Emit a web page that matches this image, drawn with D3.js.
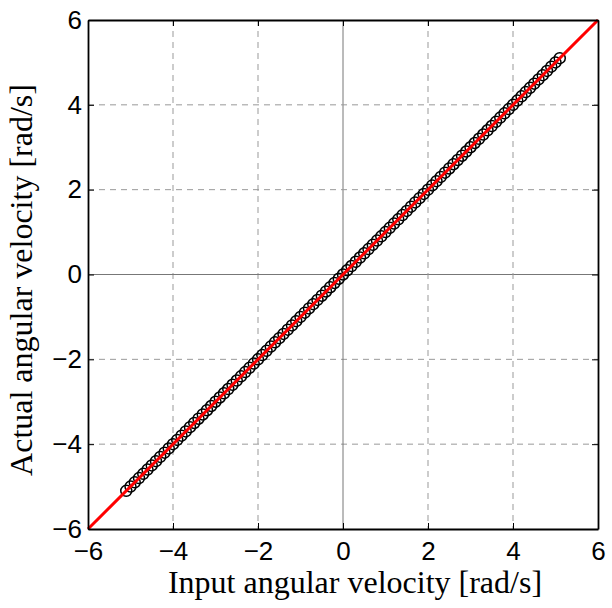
<!DOCTYPE html>
<html><head><meta charset="utf-8">
<script src="https://cdn.jsdelivr.net/npm/d3@7"></script>
<style>body{margin:0;background:#fff}</style>
</head><body>
<svg id="c" width="612" height="608"></svg>
<script>
const tickValues = [-6, -4, -2, 0, 2, 4, 6];
const inputVel = [-5.1,-5.0,-4.9,-4.8,-4.7,-4.6,-4.5,-4.4,-4.3,-4.2,-4.1,-4.0,-3.9,-3.8,-3.7,-3.6,-3.5,-3.4,-3.3,-3.2,-3.1,-3.0,-2.9,-2.8,-2.7,-2.6,-2.5,-2.4,-2.3,-2.2,-2.1,-2.0,-1.9,-1.8,-1.7,-1.6,-1.5,-1.4,-1.3,-1.2,-1.1,-1.0,-0.9,-0.8,-0.7,-0.6,-0.5,-0.4,-0.3,-0.2,-0.1,0.0,0.1,0.2,0.3,0.4,0.5,0.6,0.7,0.8,0.9,1.0,1.1,1.2,1.3,1.4,1.5,1.6,1.7,1.8,1.9,2.0,2.1,2.2,2.3,2.4,2.5,2.6,2.7,2.8,2.9,3.0,3.1,3.2,3.3,3.4,3.5,3.6,3.7,3.8,3.9,4.0,4.1,4.2,4.3,4.4,4.5,4.6,4.7,4.8,4.9,5.0,5.1];
const actualVel = [-5.1,-5.0,-4.9,-4.8,-4.7,-4.6,-4.5,-4.4,-4.3,-4.2,-4.1,-4.0,-3.9,-3.8,-3.7,-3.6,-3.5,-3.4,-3.3,-3.2,-3.1,-3.0,-2.9,-2.8,-2.7,-2.6,-2.5,-2.4,-2.3,-2.2,-2.1,-2.0,-1.9,-1.8,-1.7,-1.6,-1.5,-1.4,-1.3,-1.2,-1.1,-1.0,-0.9,-0.8,-0.7,-0.6,-0.5,-0.4,-0.3,-0.2,-0.1,0.0,0.1,0.2,0.3,0.4,0.5,0.6,0.7,0.8,0.9,1.0,1.1,1.2,1.3,1.4,1.5,1.6,1.7,1.8,1.9,2.0,2.1,2.2,2.3,2.4,2.5,2.6,2.7,2.8,2.9,3.0,3.1,3.2,3.3,3.4,3.5,3.6,3.7,3.8,3.9,4.0,4.1,4.2,4.3,4.4,4.5,4.6,4.7,4.8,4.9,5.0,5.1];
const refLine = [-6, 6];

const svg = d3.select("#c");
const L = 88, R = 598, T = 20, B = 529;
const x = d3.scaleLinear().domain([-6, 6]).range([L, R]);
const y = d3.scaleLinear().domain([-6, 6]).range([B, T]);

// grid
const g = svg.append("g");
tickValues.filter(v => v > -6 && v < 6).forEach(v => {
  const solid = v === 0;
  g.append("line").attr("x1", x(v)).attr("x2", x(v)).attr("y1", T).attr("y2", B)
    .attr("stroke", solid ? "#777" : "#999").attr("stroke-width", 1)
    .attr("stroke-dasharray", solid ? null : "6,5");
  g.append("line").attr("y1", y(v)).attr("y2", y(v)).attr("x1", L).attr("x2", R)
    .attr("stroke", solid ? "#777" : "#999").attr("stroke-width", 1)
    .attr("stroke-dasharray", solid ? null : "6,5");
});

// circles
svg.append("g").selectAll("circle").data(inputVel).join("circle")
  .attr("cx", d => x(d)).attr("cy", (d, i) => y(actualVel[i])).attr("r", 5.5)
  .attr("fill", "none").attr("stroke", "#000").attr("stroke-width", 1.5);

// red line
svg.append("line").attr("x1", x(refLine[0])).attr("y1", y(refLine[0]))
  .attr("x2", x(refLine[1])).attr("y2", y(refLine[1]))
  .attr("stroke", "#ff0000").attr("stroke-width", 3);

// axes
const fontT = "'Liberation Sans', Arial, sans-serif";
const fmt = d => d < 0 ? "\u2212" + Math.abs(d) : d;
const xb = svg.append("g").attr("transform", `translate(0,${B})`)
  .call(d3.axisBottom(x).tickValues(tickValues).tickSizeInner(-6).tickSizeOuter(0).tickPadding(13).tickFormat(fmt));
const xt = svg.append("g").attr("transform", `translate(0,${T})`)
  .call(d3.axisTop(x).tickValues(tickValues).tickSizeInner(-6).tickSizeOuter(0).tickFormat(""));
const yl = svg.append("g").attr("transform", `translate(${L},0)`)
  .call(d3.axisLeft(y).tickValues(tickValues).tickSizeInner(-6).tickSizeOuter(0).tickPadding(6).tickFormat(fmt));
const yr = svg.append("g").attr("transform", `translate(${R},0)`)
  .call(d3.axisRight(y).tickValues(tickValues).tickSizeInner(-6).tickSizeOuter(0).tickFormat(""));
[xb, xt, yl, yr].forEach(a => {
  a.select(".domain").attr("stroke", "#000").attr("stroke-width", 1.8);
  a.selectAll(".tick line").attr("stroke", "#000").attr("stroke-width", 1);
  a.selectAll("text").attr("font-family", fontT).attr("font-size", 26).attr("fill", "#000");
});
xb.selectAll("text").attr("dy", "0.71em");

// titles
const fontS = "'Liberation Serif', 'Times New Roman', serif";
svg.append("text").attr("x", 355).attr("y", 593).attr("text-anchor", "middle")
  .attr("font-family", fontS).attr("font-size", 32).text("Input angular velocity [rad/s]");
svg.append("text").attr("transform", `translate(32,280) rotate(-90)`)
  .attr("text-anchor", "middle").attr("font-family", fontS).attr("font-size", 32)
  .text("Actual angular velocity [rad/s]");
</script>
</body></html>
